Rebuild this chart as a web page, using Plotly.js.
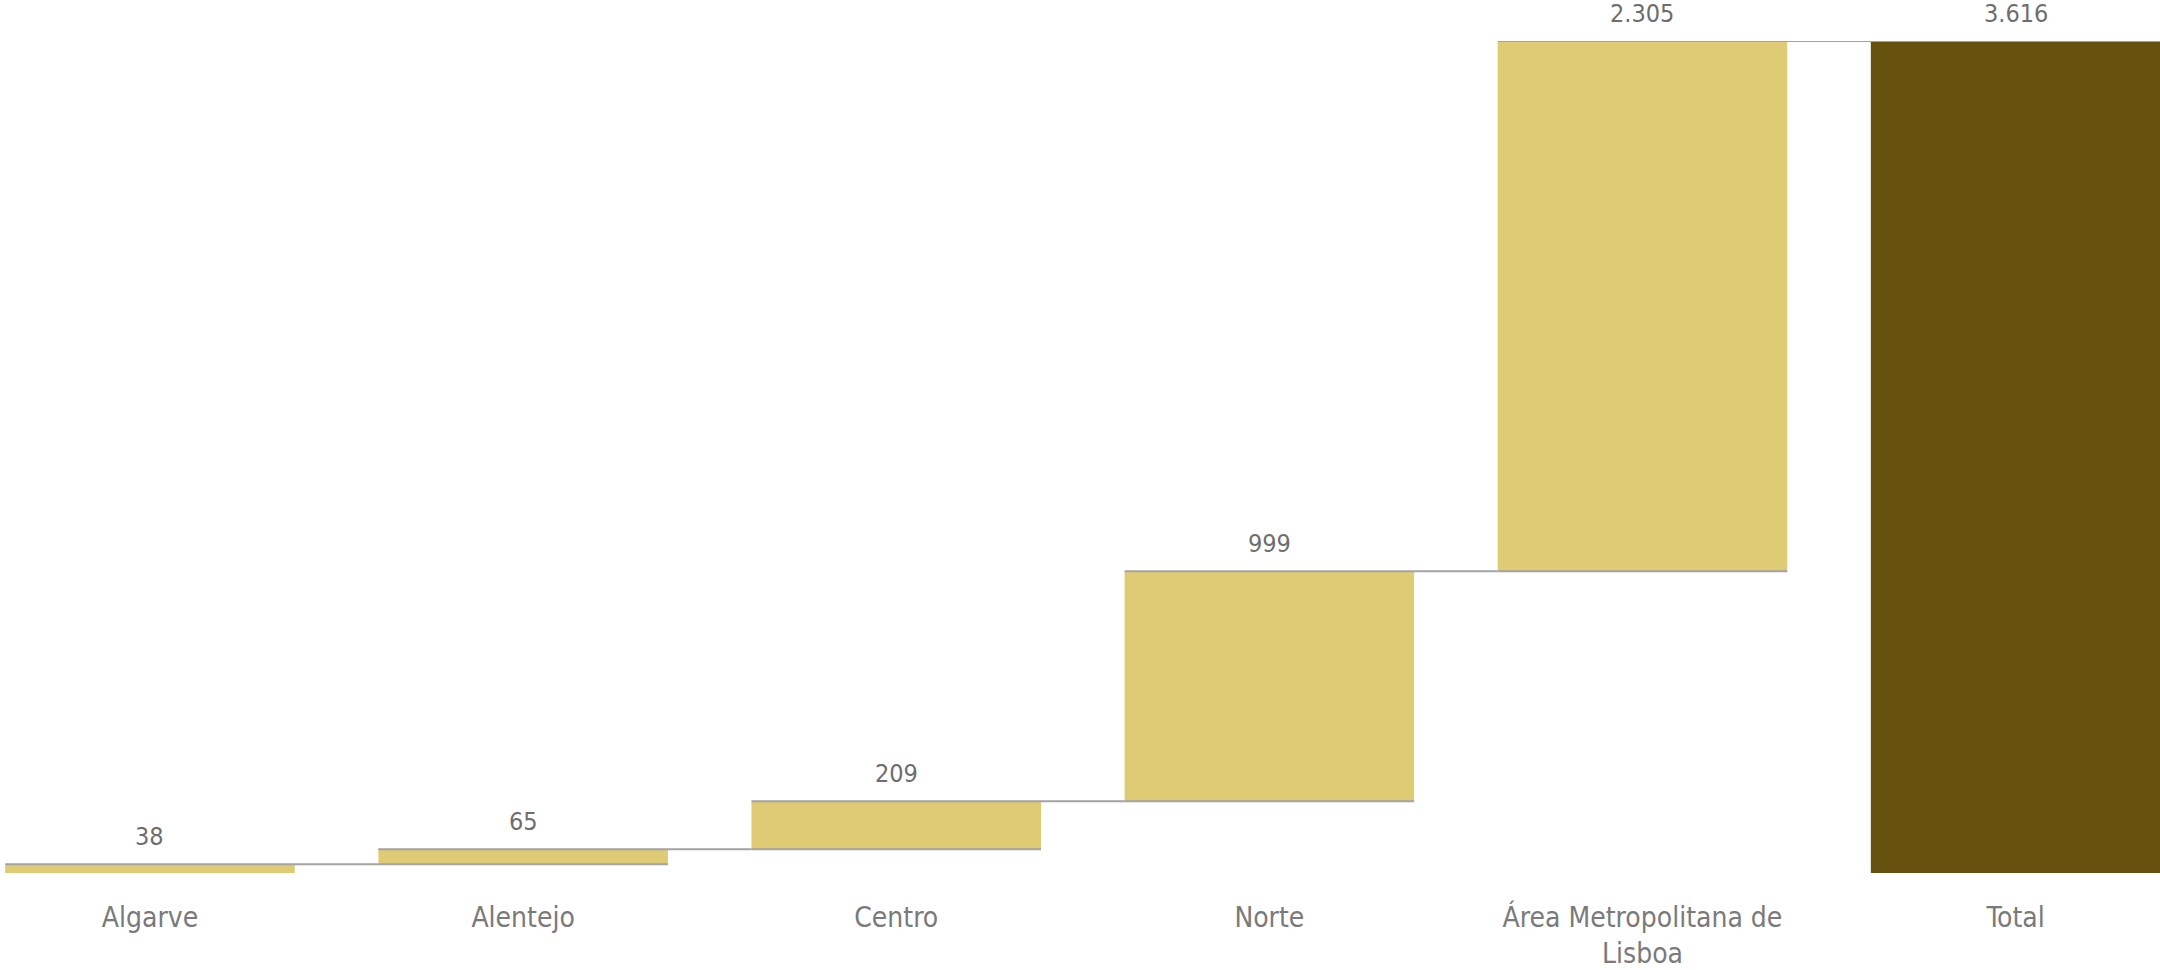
<!DOCTYPE html>
<html>
<head>
<meta charset="utf-8">
<script src="https://cdn.plot.ly/plotly-3.0.1.min.js"></script>
<style>html,body{margin:0;padding:0;background:#fff;}#chart{width:2160px;height:970px;}</style>
</head>
<body>
<div id="chart"></div>
<script>
var categories = ["Algarve", "Alentejo", "Centro", "Norte", "Área Metropolitana de<br>Lisboa", "Total"];
var values = [38, 65, 209, 999, 2305, 0];
var measures = ["relative", "relative", "relative", "relative", "relative", "total"];

var fmt = function (v) { return v.toLocaleString('de-DE'); };

// cumulative tops for labels
var tops = [];
var running = 0;
var labels = [];
for (var i = 0; i < values.length; i++) {
  if (measures[i] === "total") {
    tops.push(running);
    labels.push(fmt(running));
  } else {
    running += values[i];
    tops.push(running);
    labels.push(fmt(values[i]));
  }
}

var trace = {
  type: "waterfall",
  x: categories,
  y: values,
  measure: measures,
  width: 0.776,
  increasing: { marker: { color: "#E0CB75" } },
  decreasing: { marker: { color: "#E0CB75" } },
  totals: { marker: { color: "#66520E" } },
  connector: { mode: "spanning", line: { color: "#A3A3A3", width: 2 } },
  textposition: "none",
  hoverinfo: "none"
};

var annotations = categories.map(function (c, i) {
  return {
    x: c, y: tops[i], xref: "x", yref: "y",
    text: labels[i], showarrow: false,
    yanchor: "bottom", yshift: 11,
    font: { family: "DejaVu Sans Condensed, Roboto, sans-serif", size: 25, color: "#6E6E6E" }
  };
});

var layout = {
  width: 2160, height: 970,
  margin: { l: 0, r: 0, t: 41, b: 97 },
  paper_bgcolor: "#ffffff",
  plot_bgcolor: "#ffffff",
  showlegend: false,
  xaxis: {
    type: "category",
    range: [-0.402, 5.387],
    showgrid: false, zeroline: false, showline: false,
    ticks: "", ticklabelstandoff: 25,
    tickfont: { family: "DejaVu Sans Condensed, Open Sans, sans-serif", size: 28, color: "#7A7A7A" }
  },
  yaxis: {
    visible: false,
    range: [0, 3616],
    showgrid: false, zeroline: false
  },
  annotations: annotations
};

Plotly.newPlot("chart", [trace], layout, { displayModeBar: false, staticPlot: true });
</script>
</body>
</html>
